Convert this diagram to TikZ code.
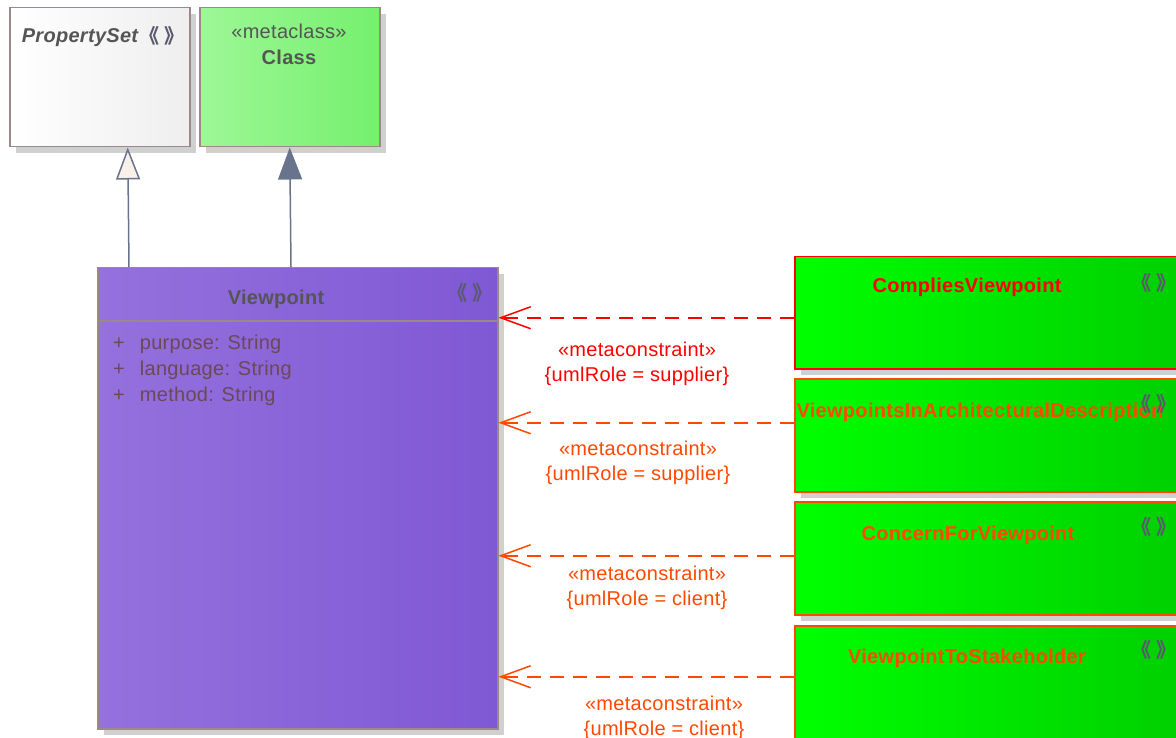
\documentclass[tikz,border=0pt]{standalone}
\usepackage{fontspec}
\setmainfont[LetterSpace=1.5]{Liberation Sans}
\newfontfamily\cjk{Noto Sans CJK SC}
\usetikzlibrary{arrows.meta, shadows}

\definecolor{boxedge}{RGB}{155,136,136}
\definecolor{titlegray}{RGB}{85,85,85}
\definecolor{attrtext}{RGB}{108,72,88}
\definecolor{slate}{RGB}{104,116,140}
\definecolor{hollow}{RGB}{250,240,234}
\definecolor{shadowgray}{RGB}{208,208,208}
\definecolor{vpleft}{RGB}{148,113,221}
\definecolor{vpright}{RGB}{127,88,212}
\definecolor{clsleft}{RGB}{158,247,150}
\definecolor{clsright}{RGB}{116,240,110}
\definecolor{relleft}{RGB}{0,255,0}
\definecolor{relright}{RGB}{0,206,0}
\definecolor{supred}{RGB}{255,0,0}
\definecolor{cliorange}{RGB}{255,72,0}
\definecolor{markgray}{RGB}{90,90,110}

\newcommand{\stereo}{《\hspace{5pt}》}

\begin{document}
\begin{tikzpicture}[
    x=1pt, y=-1pt,
    font=\fontsize{20}{25}\selectfont,
    umlbox/.style={draw=boxedge, line width=1.5pt, rectangle, anchor=north west, inner sep=0pt,
        drop shadow={shadow xshift=6pt, shadow yshift=-6pt, fill=shadowgray, opacity=1}},
    relbox/.style={umlbox, minimum width=400pt, minimum height=113pt, left color=relleft, right color=relright},
    classname/.style={text=titlegray, inner sep=0pt, anchor=base},
    relname/.style={font=\fontsize{20}{25}\selectfont\bfseries, inner sep=0pt, anchor=base},
    stereomark/.style={font=\cjk\fontsize{20}{22}\selectfont\bfseries, text=markgray, inner sep=0pt},
    attr/.style={text=attrtext, inner sep=0pt, anchor=base west},
    deplabel/.style={align=center, inner sep=0pt},
    gen/.style={draw=slate, line width=1.5pt, -{Triangle[length=32pt, width=24pt, fill=hollow]}},
    ext/.style={draw=slate, line width=1.5pt, -{Triangle[length=32pt, width=24pt]}},
    dep/.style={line width=1.5pt, dash pattern=on 14pt off 9pt, -{Straight Barb[length=30pt, width=22pt]}}
]
\useasboundingbox (0,0) rectangle (1176,738);
\clip (0,0) rectangle (1176,738);

% metaclasses
\node[umlbox, minimum width=180pt, minimum height=139pt, left color=white, right color=gray!13] (ps) at (9,7) {};
\node[umlbox, minimum width=180pt, minimum height=139pt, left color=clsleft, right color=clsright] (cls) at (199,7) {};
\node[classname, font=\fontsize{20}{25}\selectfont\bfseries\itshape] (psname) at (80,43) {PropertySet};
\node[stereomark] (psmark) at (162,36) {\stereo};
\node[classname] (clsstereo) at (289,39) {«metaclass»};
\node[classname, font=\fontsize{20}{25}\selectfont\bfseries] (clsname) at (289,65) {Class};

% Viewpoint
\node[umlbox, minimum width=400pt, minimum height=461pt, left color=vpleft, right color=vpright] (vp) at (97,267) {};
\node[classname, font=\fontsize{20}{25}\selectfont\bfseries] (vpname) at (276,305) {Viewpoint};
\node[stereomark] (vpmark) at (470,293) {\stereo};
\draw[boxedge, line width=1.5pt] ([yshift=-54pt]vp.north west) -- ([yshift=-54pt]vp.north east);
\node[attr, font=\fontsize{20}{26}\selectfont] (vpattr) at (113,349) {\begin{tabular}[t]{@{}l@{\hspace{15pt}}l@{}}
+ & purpose: String\\
+ & language: String\\
+ & method: String
\end{tabular}};

% generalization and extension
\draw[gen] ([xshift=32pt]vp.north west) -- ([xshift=28pt]ps.south);
\draw[ext] ([xshift=194pt]vp.north west) -- (cls.south);

% relationship metaclasses
\node[relbox, draw=supred, minimum height=112pt] (cv) at (794,256) {};
\node[relbox, draw=cliorange] (viad) at (794,378) {};
\node[relbox, draw=cliorange] (cfv) at (794,501) {};
\node[relbox, draw=cliorange] (vts) at (794,625) {};

\node[relname, text=supred] (cvname) at (967,293) {CompliesViewpoint};
\node[relname, text=cliorange] (viadname) at (980,417) {ViewpointsInArchitecturalDescription};
\node[relname, text=cliorange] (cfvname) at (968,540) {ConcernForViewpoint};
\node[relname, text=cliorange] (vtsname) at (967,663) {ViewpointToStakeholder};

\node[stereomark] (cvmark) at (1154,283) {\stereo};
\node[stereomark] (viadmark) at (1154,404) {\stereo};
\node[stereomark] (cfvmark) at (1154,527) {\stereo};
\node[stereomark] (vtsmark) at (1154,650) {\stereo};

% metaconstraints
\draw[dep, supred] ([yshift=-5pt]cv.west) -- ([yshift=-5pt]cv.west -| vp.east);
\draw[dep, cliorange] ([yshift=12.5pt]viad.west) -- ([yshift=12.5pt]viad.west -| vp.east);
\draw[dep, cliorange] ([yshift=2.5pt]cfv.west) -- ([yshift=2.5pt]cfv.west -| vp.east);
\draw[dep, cliorange] ([yshift=5.5pt]vts.west) -- ([yshift=5.5pt]vts.west -| vp.east);

\node[deplabel, text=supred] (cvlabel) at (637,364) {«metaconstraint»\\\{umlRole = supplier\}};
\node[deplabel, text=cliorange] (viadlabel) at (638,463) {«metaconstraint»\\\{umlRole = supplier\}};
\node[deplabel, text=cliorange] (cfvlabel) at (647,588) {«metaconstraint»\\\{umlRole = client\}};
\node[deplabel, text=cliorange] (vtslabel) at (664,718) {«metaconstraint»\\\{umlRole = client\}};

\end{tikzpicture}
\end{document}
